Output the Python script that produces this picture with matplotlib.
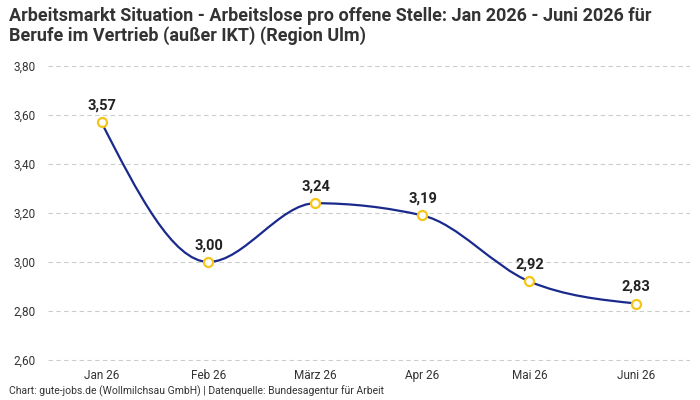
import numpy as np
import matplotlib
matplotlib.use("Agg")
import matplotlib.pyplot as plt
from matplotlib.path import Path
from matplotlib.patches import PathPatch

categories = ["Jan 26", "Feb 26", "März 26", "Apr 26", "Mai 26", "Juni 26"]
values = [3.57, 3.00, 3.24, 3.19, 2.92, 2.83]
yticks = [2.60, 2.80, 3.00, 3.20, 3.40, 3.60, 3.80]

plt.rcParams['font.family'] = ['Roboto', 'DejaVu Sans']

def fmt(v):
    return f"{v:.2f}".replace(".", ",")

def monotone_path(xs, ys):
    n = len(xs)
    def sign(v):
        return -1 if v < 0 else 1
    t = [0.0] * n
    for i in range(1, n - 1):
        h0 = xs[i] - xs[i-1]; h1 = xs[i+1] - xs[i]
        s0 = (ys[i] - ys[i-1]) / h0; s1 = (ys[i+1] - ys[i]) / h1
        p = (s0 * h1 + s1 * h0) / (h0 + h1)
        t[i] = (sign(s0) + sign(s1)) * min(abs(s0), abs(s1), 0.5 * abs(p)) or 0.0
    h = xs[1] - xs[0]
    t[0] = (3 * (ys[1] - ys[0]) / h - t[1]) / 2
    h = xs[-1] - xs[-2]
    t[-1] = (3 * (ys[-1] - ys[-2]) / h - t[-2]) / 2
    verts = [(xs[0], ys[0])]
    codes = [Path.MOVETO]
    for i in range(n - 1):
        dx = (xs[i+1] - xs[i]) / 3
        verts += [(xs[i] + dx, ys[i] + dx * t[i]),
                  (xs[i+1] - dx, ys[i+1] - dx * t[i+1]),
                  (xs[i+1], ys[i+1])]
        codes += [Path.CURVE4] * 3
    return Path(verts, codes)

fig = plt.figure(figsize=(7, 4), dpi=100)
ax = fig.add_axes([0.0686, 0.0975, 0.917, 0.74])
x = np.arange(len(categories))

ax.set_xlim(-0.5, len(categories) - 0.5)
ax.set_ylim(2.595, 3.805)
ax.set_yticks(yticks)
ax.set_yticklabels([fmt(v) for v in yticks], fontsize=8.5, color="#333333")
ax.set_xticks(x)
ax.set_xticklabels(categories, fontsize=8.5, color="#333333")
ax.tick_params(axis='y', length=0, pad=9)
ax.tick_params(axis='x', length=0, pad=6)
for s in ax.spines.values():
    s.set_visible(False)
for yv in yticks:
    ax.axhline(yv, color="#cccccc", linestyle=(0, (4, 3)), linewidth=0.8, zorder=1)

patch = PathPatch(monotone_path(list(x.astype(float)), values), facecolor='none',
                  edgecolor="#1a2a8c", linewidth=1.6, zorder=3)
ax.add_patch(patch)
ax.plot(x, values, linestyle='none', marker='o', markersize=6.5,
        markerfacecolor='white', markeredgecolor="#f5c518", markeredgewidth=1.6, zorder=4)
for xi, v in zip(x, values):
    ax.annotate(fmt(v), (xi, v), xytext=(0, 7), textcoords='offset points',
                ha='center', va='bottom', fontsize=10.5, fontweight='bold', color="#222222")

fig.text(0.013, 0.982, "Arbeitsmarkt Situation - Arbeitslose pro offene Stelle: Jan 2026 - Juni 2026 für\nBerufe im Vertrieb (außer IKT) (Region Ulm)",
         ha='left', va='top', fontsize=13, fontweight='bold', color="#333333", linespacing=1.1)
fig.text(0.013, 0.007, "Chart: gute-jobs.de (Wollmilchsau GmbH) | Datenquelle: Bundesagentur für Arbeit",
         ha='left', va='bottom', fontsize=7.5, color="#333333")

fig.savefig("out.png", dpi=100)
